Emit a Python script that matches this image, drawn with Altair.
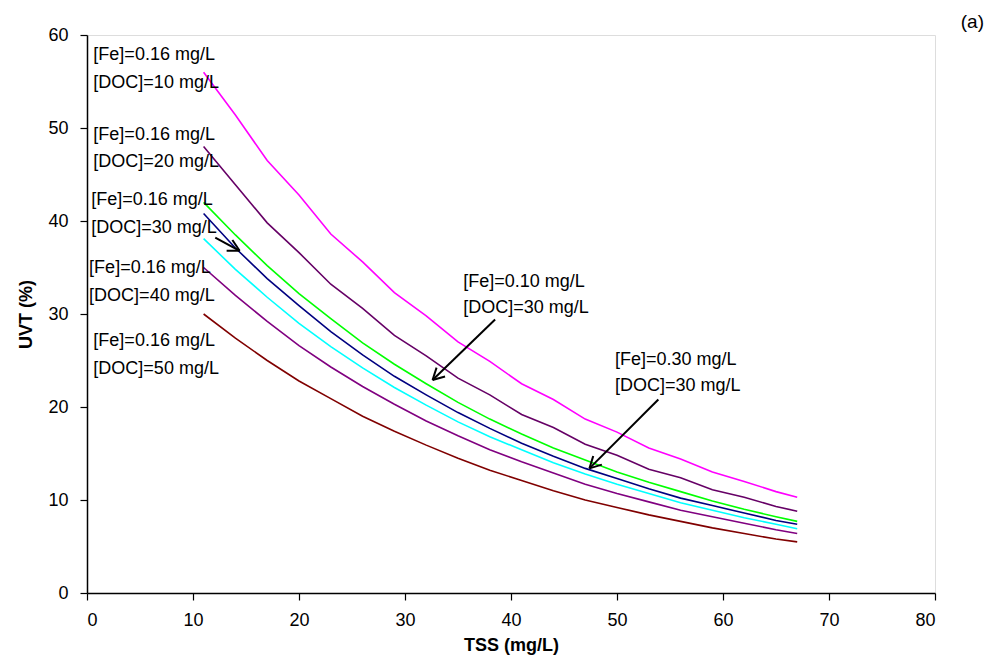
import math
import altair as alt
import pandas as pd

# ---------------- data ----------------
tss = [11, 14, 17, 20, 23, 26, 29, 32, 35, 38, 41, 44, 47, 50, 53, 56, 59, 62, 65, 67]

uvt_fe016_doc10 = [56.0, 51.4, 46.5, 42.8, 38.6, 35.6, 32.3, 29.8, 27.0, 24.9, 22.5, 20.8, 18.7, 17.3, 15.6, 14.4, 13.0, 12.0, 10.9, 10.3]
uvt_fe016_doc20 = [48.0, 43.9, 39.8, 36.6, 33.2, 30.6, 27.7, 25.5, 23.1, 21.3, 19.2, 17.8, 16.0, 14.8, 13.3, 12.4, 11.1, 10.3, 9.3, 8.8]
uvt_fe010_doc30 = [42.0, 38.5, 35.2, 32.2, 29.5, 26.9, 24.6, 22.5, 20.5, 18.7, 17.1, 15.6, 14.3, 13.0, 11.9, 10.9, 9.9, 9.0, 8.2, 7.7]
uvt_fe030_doc30 = [40.8, 37.1, 33.8, 30.9, 28.1, 25.6, 23.3, 21.3, 19.4, 17.7, 16.1, 14.7, 13.4, 12.3, 11.2, 10.2, 9.4, 8.6, 7.8, 7.4]
uvt_fe016_doc30 = [38.1, 34.8, 31.8, 29.0, 26.5, 24.2, 22.1, 20.2, 18.4, 16.8, 15.4, 14.0, 12.8, 11.7, 10.7, 9.7, 8.9, 8.1, 7.4, 6.9]
uvt_fe016_doc40 = [35.0, 32.0, 29.2, 26.6, 24.3, 22.2, 20.3, 18.5, 16.9, 15.4, 14.1, 12.9, 11.7, 10.7, 9.8, 8.9, 8.2, 7.5, 6.8, 6.4]
uvt_fe016_doc50 = [30.0, 27.4, 25.0, 22.8, 20.9, 19.0, 17.4, 15.9, 14.5, 13.2, 12.1, 11.0, 10.0, 9.2, 8.4, 7.7, 7.0, 6.4, 5.8, 5.5]

series_names = ["Fe0.16 DOC10", "Fe0.16 DOC20", "Fe0.10 DOC30", "Fe0.30 DOC30",
                "Fe0.16 DOC30", "Fe0.16 DOC40", "Fe0.16 DOC50"]
series_values = [uvt_fe016_doc10, uvt_fe016_doc20, uvt_fe010_doc30, uvt_fe030_doc30,
                 uvt_fe016_doc30, uvt_fe016_doc40, uvt_fe016_doc50]
series_colors = ["#FF00FF", "#660066", "#00FF00", "#000080", "#00FFFF", "#800080", "#800000"]

# annotation texts (x, y in data units)
label_text = ["[Fe]=0.16 mg/L", "[DOC]=10 mg/L",
              "[Fe]=0.16 mg/L", "[DOC]=20 mg/L",
              "[Fe]=0.16 mg/L", "[DOC]=30 mg/L",
              "[Fe]=0.16 mg/L", "[DOC]=40 mg/L",
              "[Fe]=0.16 mg/L", "[DOC]=50 mg/L",
              "[Fe]=0.10 mg/L", "[DOC]=30 mg/L",
              "[Fe]=0.30 mg/L", "[DOC]=30 mg/L"]
label_x = [0.6, 0.6, 0.6, 0.6, 0.4, 0.4, 0.2, 0.2, 0.6, 0.6, 35.5, 35.5, 49.8, 49.8]
label_y = [57.85, 54.84, 49.25, 46.34, 42.26, 39.25, 34.95, 31.94, 27.10, 24.09, 33.44, 30.65, 25.05, 22.26]

# arrows: start -> tip (data units)
arrow_start = [(12.1, 38.2), (38.5, 29.4), (53.9, 20.8)]
arrow_tip = [(14.4, 36.8), (32.6, 22.9), (47.4, 13.4)]

W, H = 848, 558
XMAX, YMAX = 80, 60
FONT = "Liberation Sans"

rows = []
for name, vals in zip(series_names, series_values):
    for x, y in zip(tss, vals):
        rows.append({"series": name, "TSS": x, "UVT": y})
df = pd.DataFrame(rows)

labels = pd.DataFrame({"text": label_text, "x": label_x, "y": label_y})

# arrow segments (shaft + two head strokes), computed in pixel space then back to data
px_x, px_y = W / XMAX, H / YMAX
seg = []
k = 0
for (sx, sy), (tx, ty) in zip(arrow_start, arrow_tip):
    seg.append({"id": k, "x": sx, "y": sy, "x2": tx, "y2": ty}); k += 1
    dx, dy = (tx - sx) * px_x, (ty - sy) * px_y
    L = math.hypot(dx, dy)
    ux, uy = dx / L, dy / L
    for ang in (math.radians(28), -math.radians(28)):
        rx = ux * math.cos(ang) - uy * math.sin(ang)
        ry = ux * math.sin(ang) + uy * math.cos(ang)
        hx = tx - 13 * rx / px_x
        hy = ty - 13 * ry / px_y
        seg.append({"id": k, "x": hx, "y": hy, "x2": tx, "y2": ty}); k += 1
arrows = pd.DataFrame(seg)

xscale = alt.Scale(domain=[0, XMAX], nice=False, zero=False)
yscale = alt.Scale(domain=[0, YMAX], nice=False, zero=False)

xaxis = alt.Axis(values=list(range(0, 81, 10)), title="TSS (mg/L)", grid=False,
                 domainColor="black", domainWidth=1.5, tickColor="black", tickWidth=1.2,
                 tickSize=7, labelColor="black", labelFontSize=18, labelFont=FONT,
                 labelPadding=11, titleFont=FONT, titleFontSize=18, titleFontWeight="bold",
                 titleColor="black", titlePadding=7)
yaxis = alt.Axis(values=list(range(0, 61, 10)), title="UVT (%)", grid=False,
                 domainColor="black", domainWidth=1.5, tickColor="black", tickWidth=1.2,
                 tickSize=7, labelColor="black", labelFontSize=18, labelFont=FONT,
                 labelPadding=12, titleFont=FONT, titleFontSize=18, titleFontWeight="bold",
                 titleColor="black", titlePadding=12)

lines = alt.Chart(df).mark_line(strokeWidth=1.6).encode(
    x=alt.X("TSS:Q", scale=xscale, axis=xaxis),
    y=alt.Y("UVT:Q", scale=yscale, axis=yaxis),
    color=alt.Color("series:N", scale=alt.Scale(domain=series_names, range=series_colors), legend=None),
    detail="series:N",
)

text = alt.Chart(labels).mark_text(align="left", baseline="middle", font=FONT,
                                   fontSize=18, color="black").encode(
    x=alt.X("x:Q", scale=xscale), y=alt.Y("y:Q", scale=yscale), text="text:N")

arrow_marks = alt.Chart(arrows).mark_rule(color="black", strokeWidth=2).encode(
    x=alt.X("x:Q", scale=xscale), y=alt.Y("y:Q", scale=yscale),
    x2="x2:Q", y2="y2:Q", detail="id:N")

panel_tag = alt.Chart(pd.DataFrame({"t": ["(a)"]})).mark_text(
    align="right", baseline="middle", font=FONT, fontSize=19, color="black").encode(
    x=alt.value(W + 49), y=alt.value(-13), text="t:N")

chart = alt.layer(lines, arrow_marks, text, panel_tag).properties(
    width=W, height=H,
    autosize=alt.AutoSizeParams(type="none"),
    padding={"left": 79, "top": 27, "right": 50, "bottom": 62},
).configure_view(stroke="black", strokeWidth=1.5).configure(background="white")

chart.save("out.html", embed_options={"renderer": "svg", "actions": False})
